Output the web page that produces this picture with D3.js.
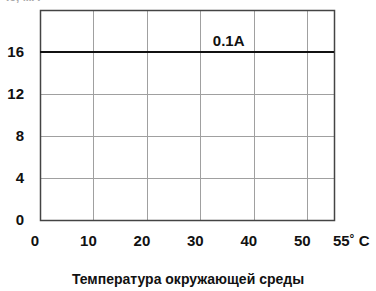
<!DOCTYPE html>
<html>
<head>
<meta charset="utf-8">
<script src="https://cdn.jsdelivr.net/npm/d3@7"></script>
<style>
  body { margin: 0; background: #fff; }
  svg text { font-family: "Liberation Sans", Arial, sans-serif; font-weight: bold; fill: #111; }
</style>
</head>
<body>
<svg id="chart" width="376" height="291"></svg>
<script>
// chart data
var xTicks = [0, 10, 20, 30, 40, 50, 55];
var yTicks = [0, 4, 8, 12, 16];
var seriesX = [0, 55];
var seriesY = [16, 16];
var seriesLabel = '0.1A';
var xTitle = 'Температура окружающей среды';
var yTitle = 'Ic, мА';

(function() {
  var svg = d3.select('#chart');
  var mLeft = 40, mRight = 334, mTop = 10, mBottom = 220;

  var x = d3.scaleLinear().domain([0, 55]).range([mLeft, mRight]);
  var y = d3.scaleLinear().domain([0, 20]).range([mBottom, mTop]);

  // grid
  var grid = svg.append('g').attr('class', 'grid');
  grid.selectAll('line.v')
    .data(xTicks.filter(function(d) { return d > 0 && d < 55; }))
    .enter().append('line')
      .attr('x1', function(d) { return Math.round(x(d)) + 0.5; })
      .attr('x2', function(d) { return Math.round(x(d)) + 0.5; })
      .attr('y1', mTop).attr('y2', mBottom)
      .attr('stroke', '#a0a0a0').attr('stroke-width', 1);
  grid.selectAll('line.h')
    .data([4, 8, 12, 16])
    .enter().append('line')
      .attr('y1', function(d) { return Math.round(y(d)) + 0.5; })
      .attr('y2', function(d) { return Math.round(y(d)) + 0.5; })
      .attr('x1', mLeft).attr('x2', mRight)
      .attr('stroke', '#a0a0a0').attr('stroke-width', 1);

  // frame
  svg.append('rect')
    .attr('x', mLeft + 0.5).attr('y', mTop + 0.5)
    .attr('width', mRight - mLeft).attr('height', mBottom - mTop)
    .attr('fill', 'none').attr('stroke', '#444').attr('stroke-width', 1.5);

  // series
  var line = d3.line()
    .x(function(d) { return x(d[0]); })
    .y(function(d) { return y(d[1]); });
  svg.append('path')
    .datum(d3.zip(seriesX, seriesY))
    .attr('d', line)
    .attr('fill', 'none').attr('stroke', '#111').attr('stroke-width', 2.2);

  svg.append('text')
    .attr('x', x(35.3)).attr('y', y(16) - 6)
    .attr('text-anchor', 'middle').attr('font-size', 15)
    .text(seriesLabel);

  // y tick labels
  svg.selectAll('text.ylab')
    .data(yTicks)
    .enter().append('text')
      .attr('x', 24)
      .attr('y', function(d) { return y(d) + 5; })
      .attr('text-anchor', 'end').attr('font-size', 15)
      .text(function(d) { return d; });

  // x tick labels
  svg.selectAll('text.xlab')
    .data(xTicks)
    .enter().append('text')
      .attr('x', function(d) { return d === 55 ? x(d) - 1 : x(d) - 5; })
      .attr('y', 246)
      .attr('text-anchor', function(d) { return d === 55 ? 'start' : 'middle'; })
      .attr('font-size', 15)
      .text(function(d) { return d === 55 ? '55˚ C' : d; });

  // titles
  svg.append('text')
    .attr('x', 188).attr('y', 284)
    .attr('text-anchor', 'middle').attr('font-size', 14)
    .text(xTitle);

  svg.append('text')
    .attr('x', 6).attr('y', 1)
    .attr('font-size', 12)
    .style('fill', '#aaa')
    .text(yTitle);
})();
</script>
</body>
</html>
